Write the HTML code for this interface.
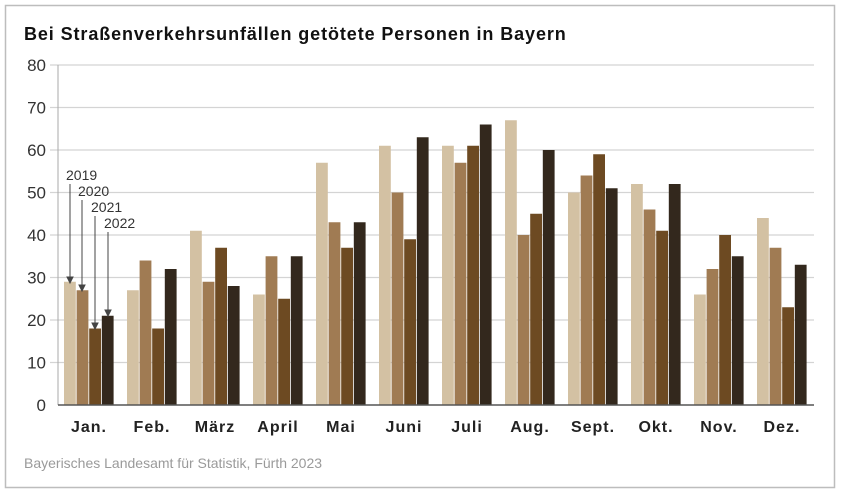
<!DOCTYPE html>
<html><head><meta charset="utf-8"><style>
body{margin:0;background:#fff}
svg{display:block;font-family:"Liberation Sans",sans-serif}
</style></head><body>
<svg width="841" height="495" viewBox="0 0 841 495">
<rect x="5.5" y="5.5" width="829" height="482" fill="#fff" stroke="#bdbdbd" stroke-width="1.5"/>
<text x="24" y="40" font-size="18" font-weight="bold" fill="#111" letter-spacing="0.9">Bei Straßenverkehrsunfällen getötete Personen in Bayern</text>
<g id="grid" stroke="#d4d4d4" stroke-width="1.2"></g>
<g id="ylab" font-size="17" fill="#333" text-anchor="end"></g>
<g id="bars"></g>
<line x1="58" y1="65" x2="58" y2="405" stroke="#aaa" stroke-width="1"/>
<line x1="58" y1="405" x2="814" y2="405" stroke="#555" stroke-width="1.5"/>
<g id="xlab" font-size="16" font-weight="bold" fill="#222" text-anchor="middle" letter-spacing="1"></g>
<g font-size="14" fill="#333" stroke="none">
<text x="66" y="180">2019</text><text x="78" y="196">2020</text><text x="91" y="212">2021</text><text x="104" y="228">2022</text>
</g>
<g stroke="#444" stroke-width="1" fill="#444">
<line x1="70" y1="184" x2="70" y2="278"/><path d="M67,277 L73,277 L70,283Z"/>
<line x1="82" y1="200" x2="82" y2="286"/><path d="M79,285 L85,285 L82,291Z"/>
<line x1="95" y1="216" x2="95" y2="324"/><path d="M92,323 L98,323 L95,329Z"/>
<line x1="108" y1="232" x2="108" y2="311"/><path d="M105,310 L111,310 L108,316Z"/>
</g>
<text x="24" y="468" font-size="14" fill="#9a9a9a">Bayerisches Landesamt für Statistik, Fürth 2023</text>
</svg>
<script>
const ns="http://www.w3.org/2000/svg";
function el(p,t,a,txt){const e=document.createElementNS(ns,t);for(const k in a)e.setAttribute(k,a[k]);if(txt!=null)e.textContent=txt;document.getElementById(p).appendChild(e);}
const y0=405,s=4.25;
for(let v=0;v<=80;v+=10){const y=y0-v*s;if(v>0)el("grid","line",{x1:50,y1:y,x2:814,y2:y});el("ylab","text",{x:46,y:y+6},v);}
const d=[[29,27,18,21],[27,34,18,32],[41,29,37,28],[26,35,25,35],[57,43,37,43],[61,50,39,63],[61,57,61,66],[67,40,45,60],[50,54,59,51],[52,46,41,52],[26,32,40,35],[44,37,23,33]];
const m=["Jan.","Feb.","März","April","Mai","Juni","Juli","Aug.","Sept.","Okt.","Nov.","Dez."];
const c=["#d3c1a3","#a07b53","#6d4a22","#33281d"];
d.forEach((g,i)=>{const gx=64+i*63;g.forEach((v,j)=>{el("bars","rect",{x:gx+j*12.6,y:y0-v*s,width:11.8,height:v*s,fill:c[j]});});el("xlab","text",{x:gx+25,y:432},m[i]);});
</script>
</body></html>
